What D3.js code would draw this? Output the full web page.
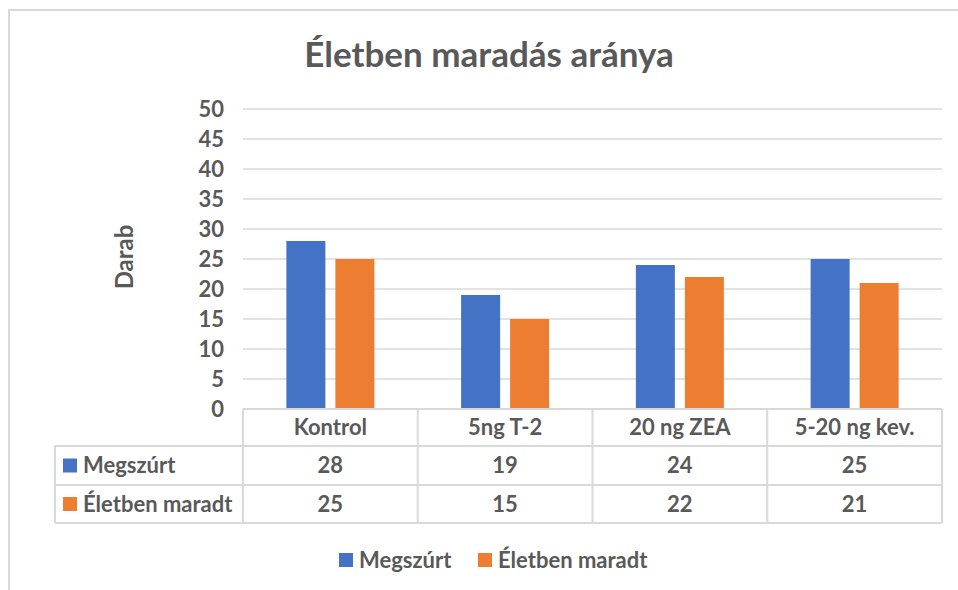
<!DOCTYPE html>
<html>
<head>
<meta charset="utf-8">
<script src="https://cdn.jsdelivr.net/npm/d3@7"></script>
<style>
  html, body { margin: 0; padding: 0; background: #fff; }
  svg { display: block; }
  text { font-family: Lato, "Open Sans", sans-serif; font-weight: bold; fill: #595959; }
</style>
</head>
<body>
<svg id="chart" width="958" height="590"></svg>
<script>
const categories = ["Kontrol", "5ng T-2", "20 ng ZEA", "5-20 ng kev."];
const seriesNames = ["Megszúrt", "Életben maradt"];
const megszurt = [28, 19, 24, 25];
const eletbenMaradt = [25, 15, 22, 21];
const yTicks = [0, 5, 10, 15, 20, 25, 30, 35, 40, 45, 50];
const colors = ["#4472C4", "#ED7D31"];
const title = "Életben maradás aránya";
const yTitle = "Darab";

const seriesValues = [megszurt, eletbenMaradt];

const svg = d3.select("#chart");
const grid = "#d9d9d9";

// outer frame (top and left edges visible)
svg.append("rect").attr("x", 9).attr("y", 10).attr("width", 1000).attr("height", 700)
  .attr("fill", "none").attr("stroke", grid).attr("stroke-width", 2);

const plot = { left: 243, right: 942, top: 109, bottom: 409 };

const x = d3.scaleBand().domain(categories).range([plot.left, plot.right]).padding(0);
const x1 = d3.scaleBand().domain(seriesNames).range([0, x.bandwidth()])
  .paddingInner(0.204).paddingOuter(0.885);
const y = d3.scaleLinear().domain([0, 50]).range([plot.bottom, plot.top]);

// title
svg.append("text").attr("x", 489).attr("y", 67).attr("text-anchor", "middle")
  .style("font-size", "35px").text(title);

// gridlines
svg.append("g").selectAll("line").data(yTicks).join("line")
  .attr("x1", plot.left).attr("x2", plot.right)
  .attr("y1", d => y(d)).attr("y2", d => y(d))
  .attr("stroke", grid).attr("stroke-width", 1.5);

// y axis labels
const yAxis = d3.axisLeft(y).tickValues(yTicks).tickSize(0).tickPadding(0);
const ya = svg.append("g").attr("transform", `translate(224,0)`).call(yAxis);
ya.select(".domain").remove();
ya.selectAll("text").style("font-size", "22px").style("font-family", "Lato, sans-serif")
  .style("font-weight", "bold").attr("fill", "#595959").attr("dy", "0.35em");

// y title
svg.append("text").attr("transform", "translate(133,257) rotate(-90)")
  .attr("text-anchor", "middle").style("font-size", "24px").text(yTitle);

// bars
const groups = svg.append("g").selectAll("g").data(categories).join("g")
  .attr("transform", d => `translate(${x(d)},0)`);
groups.selectAll("rect").data((c, i) => seriesNames.map((s, j) => ({ s, j, v: seriesValues[j][i] })))
  .join("rect")
  .attr("x", d => x1(d.s)).attr("width", x1.bandwidth())
  .attr("y", d => y(d.v)).attr("height", d => y(0) - y(d.v))
  .attr("fill", d => colors[d.j]);

// data table
const tbl = { left: 55, top: 409, r1: 446, r2: 485, bottom: 523 };
const tg = svg.append("g").attr("stroke", grid).attr("stroke-width", 2);
tg.append("line").attr("x1", plot.left).attr("x2", plot.right).attr("y1", tbl.top).attr("y2", tbl.top);
[tbl.r1, tbl.r2, tbl.bottom].forEach(yy => {
  tg.append("line").attr("x1", tbl.left).attr("x2", plot.right).attr("y1", yy).attr("y2", yy);
});
tg.append("line").attr("x1", tbl.left).attr("x2", tbl.left).attr("y1", tbl.r1).attr("y2", tbl.bottom);
const colEdges = categories.map(c => x(c)).concat([plot.right]);
tg.selectAll("line.v").data(colEdges).join("line").attr("class", "v")
  .attr("x1", d => d).attr("x2", d => d).attr("y1", tbl.top).attr("y2", tbl.bottom);

// header row
svg.append("g").selectAll("text").data(categories).join("text")
  .attr("x", d => x(d) + x.bandwidth() / 2).attr("y", (tbl.top + tbl.r1) / 2)
  .attr("dy", "0.35em").attr("text-anchor", "middle").style("font-size", "22px").text(d => d);

// value rows
const rowMid = [(tbl.r1 + tbl.r2) / 2, (tbl.r2 + tbl.bottom) / 2];
seriesNames.forEach((s, j) => {
  svg.append("rect").attr("x", 63).attr("y", rowMid[j] - 7).attr("width", 14).attr("height", 14)
    .attr("fill", colors[j]);
  svg.append("text").attr("x", 83).attr("y", rowMid[j]).attr("dy", "0.35em")
    .style("font-size", "22px").text(s);
  svg.append("g").selectAll("text").data(seriesValues[j]).join("text")
    .attr("x", (d, i) => x(categories[i]) + x.bandwidth() / 2).attr("y", rowMid[j])
    .attr("dy", "0.35em").attr("text-anchor", "middle").style("font-size", "22px").text(d => d);
});

// legend
const legendPos = [{ sq: 339, tx: 359 }, { sq: 478, tx: 498 }];
seriesNames.forEach((s, j) => {
  svg.append("rect").attr("x", legendPos[j].sq).attr("y", 553).attr("width", 14).attr("height", 14)
    .attr("fill", colors[j]);
  svg.append("text").attr("x", legendPos[j].tx).attr("y", 560).attr("dy", "0.35em")
    .style("font-size", "22px").text(s);
});
</script>
</body>
</html>
